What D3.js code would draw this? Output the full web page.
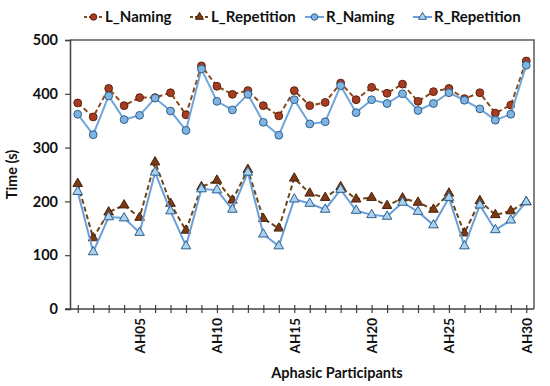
<!DOCTYPE html>
<html>
<head>
<meta charset="utf-8">
<script src="https://cdn.jsdelivr.net/npm/d3@7"></script>
<style>
body { margin: 0; background: #fff; }
text { font-family: Lato, "Open Sans", sans-serif; font-weight: bold; }
</style>
</head>
<body>
<div id="chart"></div>
<script>
var participants = d3.range(1, 31).map(function (i) { return "AH" + (i < 10 ? "0" + i : i); });
var tickLabels = ["AH05", "AH10", "AH15", "AH20", "AH25", "AH30"];
var yTicks = [0, 100, 200, 300, 400, 500];

var lNaming = [383, 357, 410, 378, 393, 393, 402, 361, 452, 414,
	399, 406, 378, 359, 406, 378, 384, 420, 389, 412,
	401, 418, 386, 404, 410, 391, 402, 364, 379, 461];
var lRepetition = [233, 132, 180, 193, 170, 273, 196, 146, 227, 239,
	202, 259, 168, 150, 243, 215, 207, 227, 204, 207,
	192, 206, 198, 185, 215, 141, 201, 175, 182, 199];
var rNaming = [362, 324, 396, 352, 360, 392, 368, 332, 446, 386,
	370, 399, 347, 323, 389, 344, 348, 415, 365, 389,
	382, 400, 369, 382, 402, 388, 372, 351, 362, 453];
var rRepetition = [218, 106, 171, 169, 142, 254, 182, 117, 223, 221,
	185, 254, 139, 117, 204, 196, 185, 222, 183, 175,
	172, 198, 181, 156, 207, 117, 193, 147, 165, 199];

var seriesNames = ["L_Naming", "L_Repetition", "R_Naming", "R_Repetition"];
var seriesValues = [lNaming, lRepetition, rNaming, rRepetition];

var styles = [
	{ line: "#8a4a1c", dash: "5,3", shape: d3.symbolCircle, size: 48, fill: "#a83c22", stroke: "#5a2410" },
	{ line: "#6b4618", dash: "5,3", shape: d3.symbolTriangle, size: 40, fill: "#7a3a16", stroke: "#4a2208" },
	{ line: "#6ea6dc", dash: null, shape: d3.symbolCircle, size: 48, fill: "#7fb4e2", stroke: "#2f5f8a" },
	{ line: "#6a9edb", dash: null, shape: d3.symbolTriangle, size: 40, fill: "#a9d2f0", stroke: "#2f5f8a" }
];

var width = 550, height = 386;
var margin = { left: 70, right: 16, top: 40, bottom: 77 };

var svg = d3.select("#chart").append("svg")
	.attr("width", width)
	.attr("height", height);

var x = d3.scaleBand()
	.domain(participants)
	.range([margin.left, width - margin.right]);
var y = d3.scaleLinear()
	.domain([0, 500])
	.range([height - margin.bottom, margin.top]);

function cx(d, i) { return x(participants[i]) + x.bandwidth() / 2; }

// plot border (top and right)
svg.append("path")
	.attr("d", "M" + margin.left + "," + margin.top + "H" + (width - margin.right) + "V" + (height - margin.bottom))
	.attr("fill", "none")
	.attr("stroke", "#595959")
	.attr("stroke-width", 1.5);

// y axis
var yAxis = svg.append("g")
	.attr("transform", "translate(" + margin.left + ",0)")
	.call(d3.axisLeft(y).tickValues(yTicks).tickSize(5).tickPadding(7));
yAxis.select(".domain").attr("stroke", "#404040").attr("stroke-width", 1.5);
yAxis.selectAll(".tick line").attr("stroke", "#404040").attr("stroke-width", 1.2);
yAxis.selectAll("text").attr("font-size", 14.5).attr("fill", "#111")
	.attr("font-family", "Lato, sans-serif").attr("font-weight", "bold");

// x axis
var xAxis = svg.append("g")
	.attr("transform", "translate(0," + y(0) + ")")
	.call(d3.axisBottom(d3.scalePoint().domain(participants).range([x(participants[0]) + x.bandwidth() / 2, x(participants[29]) + x.bandwidth() / 2]))
		.tickSize(0)
		.tickFormat(function (d) { return tickLabels.indexOf(d) >= 0 ? d : ""; }));
xAxis.select(".domain").remove();
svg.append("line")
	.attr("x1", margin.left - 5).attr("x2", width - margin.right)
	.attr("y1", y(0)).attr("y2", y(0))
	.attr("stroke", "#404040").attr("stroke-width", 1.5);
xAxis.selectAll(".tick line").attr("y1", -4).attr("y2", 4)
	.attr("stroke", "#404040").attr("stroke-width", 1.2);
xAxis.selectAll(".tick text")
	.attr("transform", "rotate(-90)")
	.attr("text-anchor", "end")
	.attr("x", -9).attr("y", 0).attr("dy", "0.35em")
	.attr("font-size", 13.5).attr("fill", "#111")
	.attr("font-family", "Lato, sans-serif").attr("font-weight", "bold");

// axis titles
svg.append("text")
	.attr("transform", "translate(17," + ((margin.top + y(0)) / 2) + ") rotate(-90)")
	.attr("text-anchor", "middle")
	.attr("font-size", 14.5).attr("fill", "#111")
	.text("Time (s)");
svg.append("text")
	.attr("x", 337).attr("y", 378)
	.attr("text-anchor", "middle")
	.attr("font-size", 14.5).attr("fill", "#111")
	.text("Aphasic Participants");

// series
var line = d3.line().x(cx).y(function (d) { return y(d); });

seriesValues.forEach(function (vals, s) {
	var st = styles[s];
	svg.append("path")
		.datum(vals)
		.attr("d", line)
		.attr("fill", "none")
		.attr("stroke", st.line)
		.attr("stroke-width", 2)
		.attr("stroke-dasharray", st.dash);
	svg.selectAll(".m" + s)
		.data(vals)
		.enter()
		.append("path")
		.attr("class", "m" + s)
		.attr("d", d3.symbol().type(st.shape).size(st.size))
		.attr("transform", function (d, i) { return "translate(" + cx(d, i) + "," + y(d) + ")"; })
		.attr("fill", st.fill)
		.attr("stroke", st.stroke)
		.attr("stroke-width", 1);
});

// legend
var legendX = [84, 190, 305, 413];
var legend = svg.selectAll(".legend")
	.data(seriesNames)
	.enter()
	.append("g")
	.attr("class", "legend")
	.attr("transform", function (d, i) { return "translate(" + legendX[i] + ",17)"; });
legend.append("line")
	.attr("x1", 0).attr("x2", 19)
	.attr("stroke", function (d, i) { return styles[i].line; })
	.attr("stroke-width", 2)
	.attr("stroke-dasharray", function (d, i) { return styles[i].dash ? "3,2" : null; });
legend.append("path")
	.attr("d", function (d, i) { return d3.symbol().type(styles[i].shape).size(styles[i].size * 0.7)(); })
	.attr("transform", "translate(9.5,0)")
	.attr("fill", function (d, i) { return styles[i].fill; })
	.attr("stroke", function (d, i) { return styles[i].stroke; })
	.attr("stroke-width", 1);
legend.append("text")
	.attr("x", 21).attr("dy", "0.35em")
	.attr("font-size", 15).attr("fill", "#111")
	.text(function (d) { return d; });
</script>
</body>
</html>
